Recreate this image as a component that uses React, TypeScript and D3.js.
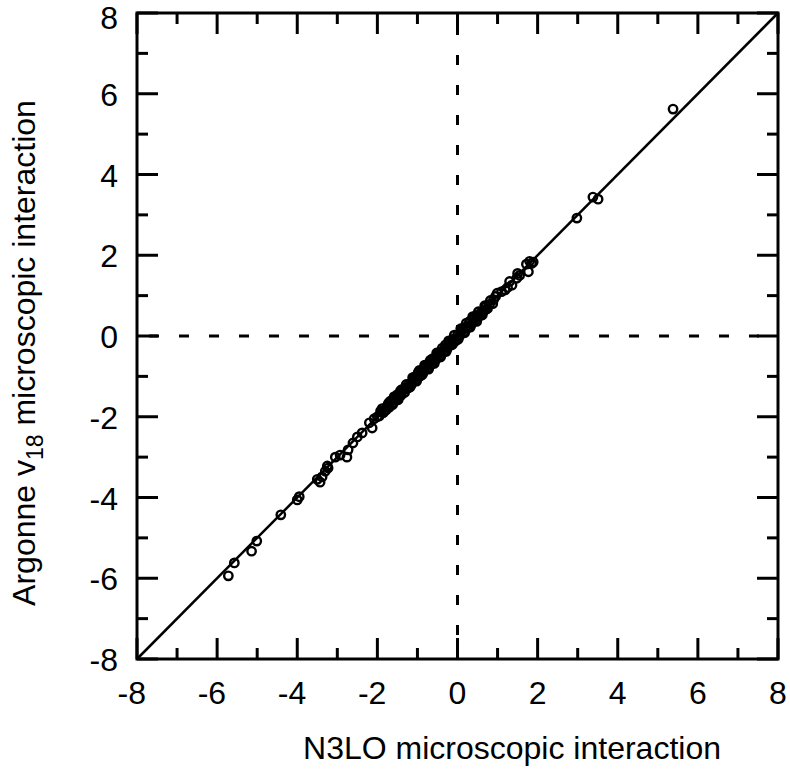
import React from "react";
import * as d3 from "d3";

const n3lo: number[] = [
  -5.72, -5.57, -5.14, -5.01, -4.41, -4.0, -3.95, -3.43, -3.38, -3.5, -3.23, -3.25,
  -2.93, -2.76, -2.73, -2.61, -2.38, -2.13, -2.08, -2.0,
  -1.9, -1.82, -1.75, -1.7, -1.65, -1.6, -1.55, -1.5, -1.45, -1.4, -1.35, -1.3, -1.25,
  -1.2, -1.15, -1.1, -1.05, -1.0, -0.95, -0.9, -0.85, -0.8, -0.75, -0.7, -0.65, -0.6,
  -0.55, -0.5, -0.45, -0.4, -0.35, -0.3, -0.25, -0.2, -0.15, -0.1, -0.05, 0.0, 0.05,
  0.1, 0.15, 0.2, 0.25, 0.3, 0.35, 0.4, 0.45, 0.5, 0.55, 0.6, 0.65, 0.7, 0.8, 0.9,
  0.99, 1.19, 1.25, 1.36, 1.48, 1.55, 1.77, 1.85, 1.89, 2.98, 3.38, 3.51, 5.38,
  -1.95, -1.88, -1.78, -1.72, -1.62, -1.58, -1.48, -1.42, -1.32, -1.28, -1.18, -1.12,
  -1.02, -0.98, -0.88, -0.82, -0.72, -0.68, -0.58, -0.52, -0.42, -0.38, -0.28, -0.22,
  -0.12, -0.08, 0.02, 0.08, 0.18, 0.22, 0.32, 0.38, 0.48, 0.52, 0.62, 0.68, 0.75, 0.82,
  0.88, 0.95, 1.1, 1.3, 1.5, 1.72, 1.8, -2.2, -2.5, -3.05, -3.3, 0.7, -0.3, -1.5, -0.95,
  -1.85, -1.68, -1.52, -1.38, -1.22, -1.08, -0.92, -0.78, -0.62, -0.48, -0.32, -0.18,
  -0.02, 0.12, 0.28, 0.42, 0.58, -1.92, -1.42, -0.62, -0.1, 0.3,
];
const argonne: number[] = [
  -5.94, -5.62, -5.33, -5.08, -4.43, -4.06, -3.98, -3.62, -3.49, -3.55, -3.27, -3.22,
  -2.95, -3.0, -2.82, -2.65, -2.4, -2.28, -2.05, -2.0,
  -1.88, -1.85, -1.72, -1.76, -1.6, -1.65, -1.52, -1.55, -1.42, -1.45, -1.33, -1.28, -1.3,
  -1.18, -1.2, -1.08, -1.1, -0.97, -1.0, -0.88, -0.9, -0.78, -0.8, -0.68, -0.7, -0.58,
  -0.6, -0.48, -0.5, -0.38, -0.4, -0.28, -0.3, -0.18, -0.22, -0.08, -0.12, 0.02, 0.0,
  0.12, 0.1, 0.22, 0.2, 0.33, 0.3, 0.42, 0.4, 0.52, 0.5, 0.6, 0.62, 0.72, 0.78, 0.9,
  1.06, 1.14, 1.2, 1.26, 1.43, 1.5, 1.59, 1.8, 1.83, 2.92, 3.44, 3.39, 5.62,
  -1.98, -1.8, -1.83, -1.66, -1.7, -1.5, -1.58, -1.35, -1.4, -1.2, -1.26, -1.03,
  -1.12, -0.9, -0.96, -0.72, -0.82, -0.6, -0.68, -0.42, -0.52, -0.3, -0.38, -0.12,
  -0.2, 0.02, -0.08, 0.18, 0.08, 0.32, 0.22, 0.48, 0.36, 0.6, 0.52, 0.75, 0.68, 0.88,
  0.8, 0.98, 1.1, 1.35, 1.55, 1.78, 1.85, -2.15, -2.5, -3.0, -3.35, 0.65, -0.22, -1.45, -0.85,
  -1.9, -1.62, -1.58, -1.32, -1.28, -1.02, -0.98, -0.72, -0.68, -0.42, -0.38, -0.12,
  -0.08, 0.18, 0.22, 0.48, 0.52, -1.86, -1.48, -0.56, -0.16, 0.36,
];
const majorTicks: number[] = [-8, -6, -4, -2, 0, 2, 4, 6, 8];
const minorTicks: number[] = [-7, -5, -3, -1, 1, 3, 5, 7];

const FONT = "'Liberation Sans', Arial, Helvetica, sans-serif";

export default function App() {
  const left = 137, right = 778, top = 13, bottom = 659;
  const x = d3.scaleLinear().domain([-8, 8]).range([left, right]);
  const y = d3.scaleLinear().domain([-8, 8]).range([bottom, top]);
  const MAJ = 21, MIN = 11;
  const diag = d3.line<number>().x((v) => x(v)).y((v) => y(v));
  return (
    <svg width={790} height={770} style={{ position: "absolute", left: 0, top: 0, background: "#fff" }}>
      <line x1={x(0)} x2={x(0)} y1={top} y2={bottom} stroke="#000" strokeWidth={3} strokeDasharray="10,20" strokeDashoffset={-12} />
      <line x1={left} x2={right} y1={y(0)} y2={y(0)} stroke="#000" strokeWidth={3} strokeDasharray="10,20" strokeDashoffset={-12} />
      <path d={diag([-8, 8]) || ""} stroke="#000" strokeWidth={2.5} fill="none" />
      {n3lo.map((v, i) => (
        <circle key={i} cx={x(v)} cy={y(argonne[i])} r={4.2} fill="none" stroke="#000" strokeWidth={2.4} />
      ))}
      {majorTicks.map((t) => (
        <g key={"M" + t}>
          <line x1={x(t)} x2={x(t)} y1={bottom} y2={bottom - MAJ} stroke="#000" strokeWidth={3} />
          <line x1={x(t)} x2={x(t)} y1={top} y2={top + MAJ} stroke="#000" strokeWidth={3} />
          <line y1={y(t)} y2={y(t)} x1={left} x2={left + MAJ} stroke="#000" strokeWidth={3} />
          <line y1={y(t)} y2={y(t)} x1={right} x2={right - MAJ} stroke="#000" strokeWidth={3} />
          {t < 0 ? (
            <text x={x(t) + 9} y={704} textAnchor="end" fontFamily={FONT} fontSize={32}>{t}</text>
          ) : (
            <text x={x(t)} y={704} textAnchor="middle" fontFamily={FONT} fontSize={32}>{t}</text>
          )}
          <text x={118} y={Math.max(y(t) + 12, 29)} textAnchor="end" fontFamily={FONT} fontSize={32}>{t}</text>
        </g>
      ))}
      {minorTicks.map((t) => (
        <g key={"m" + t}>
          <line x1={x(t)} x2={x(t)} y1={bottom} y2={bottom - MIN} stroke="#000" strokeWidth={3} />
          <line x1={x(t)} x2={x(t)} y1={top} y2={top + MIN} stroke="#000" strokeWidth={3} />
          <line y1={y(t)} y2={y(t)} x1={left} x2={left + MIN} stroke="#000" strokeWidth={3} />
          <line y1={y(t)} y2={y(t)} x1={right} x2={right - MIN} stroke="#000" strokeWidth={3} />
        </g>
      ))}
      <rect x={left} y={top} width={right - left} height={bottom - top} fill="none" stroke="#000" strokeWidth={3} />
      <text x={512} y={759} textAnchor="middle" fontFamily={FONT} fontSize={32}>N3LO microscopic interaction</text>
      <text transform={`translate(35,353) rotate(-90)`} textAnchor="middle" fontFamily={FONT} fontSize={32}>
        Argonne v<tspan fontSize={23} dy={8}>18</tspan><tspan dy={-8}> microscopic interaction</tspan>
      </text>
    </svg>
  );
}
